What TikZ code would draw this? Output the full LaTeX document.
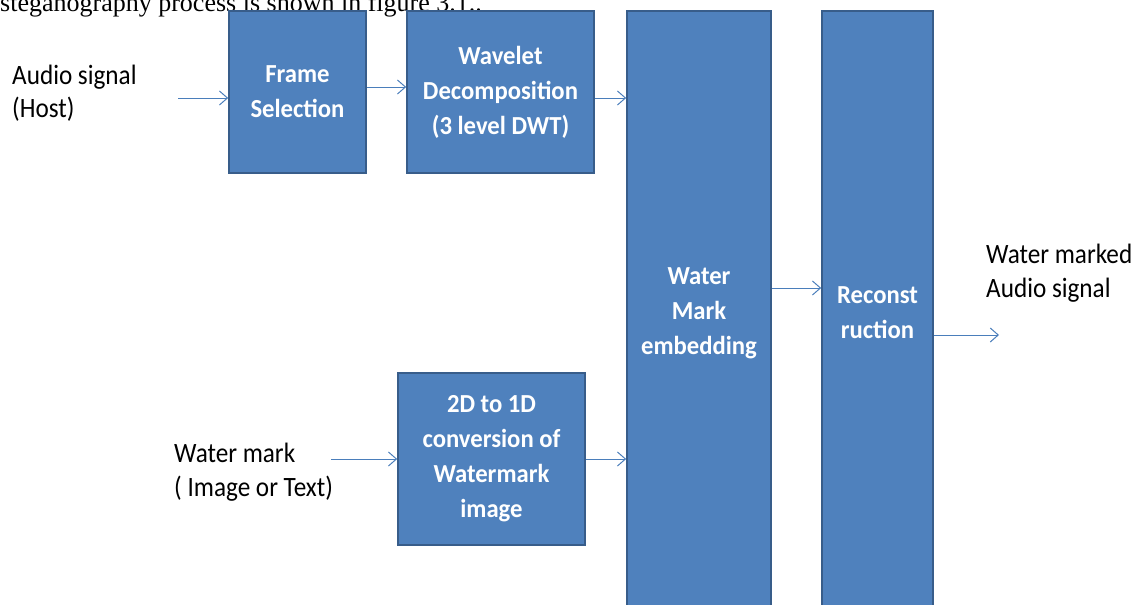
\documentclass[tikz,border=0pt]{standalone}
\usepackage{fontspec}
\setmainfont{Carlito}[FakeStretch=0.9]
\newfontfamily\blockfont{Carlito}[FakeStretch=0.95]
\newfontfamily\bodyfont{Liberation Serif}
\usetikzlibrary{arrows.meta}
\definecolor{boxblue}{HTML}{4F81BD}
\definecolor{boxedge}{HTML}{385D8A}
\definecolor{linkblue}{HTML}{4A7EBB}

\begin{document}
\begin{tikzpicture}[x=1pt, y=-1pt,
  block/.style={draw=boxedge, line width=1.6pt, fill=boxblue, text=white,
    font=\blockfont\fontsize{26}{35}\selectfont\bfseries, align=center, inner sep=0pt},
  flow/.style={draw=linkblue, line width=1pt, -{Straight Barb[length=8pt, width=14pt]}},
  sidetext/.style={font=\fontsize{28}{33.5}\selectfont, align=left, anchor=west, inner sep=0pt}]
  \useasboundingbox (0,0) rectangle (1136,605);
  \clip (0,0) rectangle (1136,605);
  \node[anchor=base west, inner sep=0pt, font=\bodyfont\fontsize{26}{30}\selectfont] (caption) at (0,12) {steganography process is shown in figure 3.1..};

  % processing blocks
  \node[block, minimum width=137, minimum height=162] (frame) at (297.5,92) {Frame\\Selection};
  \node[block, minimum width=187, minimum height=162] (wav) at (500.5,92) {Wavelet\\Decomposition\\(3 level DWT)};
  \node[block, minimum width=144, minimum height=604] (emb) at (699,313) {Water\\Mark\\embedding};
  \node[block, minimum width=111, minimum height=604] (rec) at (877.5,313) {Reconst\\ruction};
  \node[block, minimum width=187, minimum height=172] (conv) at (491.5,459) {2D to 1D\\conversion of\\Watermark\\image};

  % inputs and output
  \node[sidetext] (host) at (12,93) {Audio signal\\(Host)};
  \node[sidetext] (mark) at (174,472) {Water mark\\( Image or Text)};
  \node[sidetext] (marked) at (986,273) {Water marked\\Audio signal};
  \coordinate (hostin) at (178,98);
  \coordinate (markin) at (331,459);
  \coordinate (audioout) at (999,335);

  \draw[flow] (hostin) -- (frame.west |- hostin);
  \draw[flow] (frame.east |- 0,87) -- (wav.west |- 0,87);
  \draw[flow] (wav.east |- hostin) -- (emb.west |- hostin);
  \draw[flow] (markin) -- (conv.west);
  \draw[flow] (conv.east) -- (emb.west |- conv.east);
  \draw[flow] (emb.east |- 0,288) -- (rec.west |- 0,288);
  \draw[flow] (rec.east |- audioout) -- (audioout);
\end{tikzpicture}
\end{document}
